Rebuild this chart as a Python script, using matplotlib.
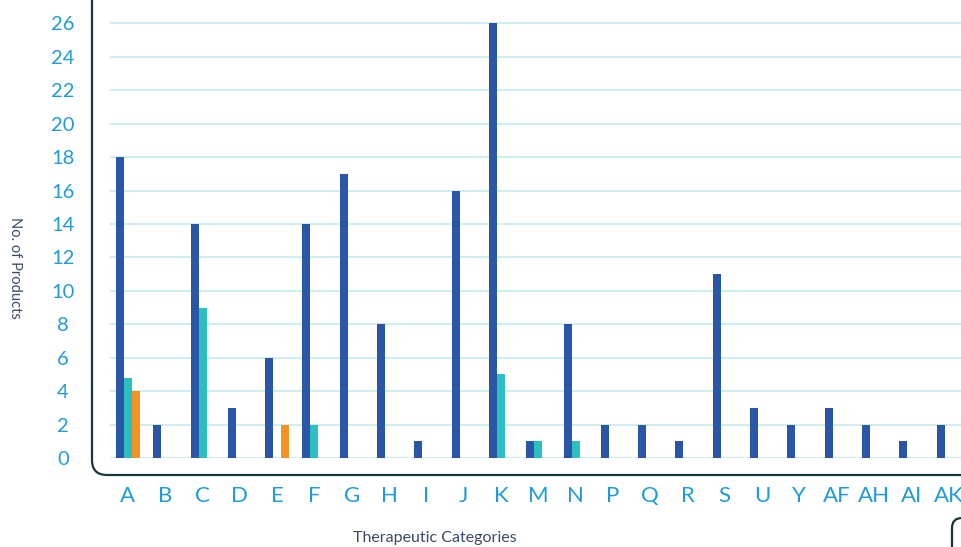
import numpy as np
import matplotlib
matplotlib.use("Agg")
import matplotlib.pyplot as plt
from matplotlib.patches import FancyBboxPatch

# categories and product counts
categories = ["A", "B", "C", "D", "E", "F", "G", "H", "I", "J", "K", "M",
              "N", "P", "Q", "R", "S", "U", "Y", "AF", "AH", "AI", "AK"]
series_blue = [18, 2, 14, 3, 6, 14, 17, 8, 1, 16, 26, 1,
               8, 2, 2, 1, 11, 3, 2, 3, 2, 1, 2]
series_teal = [4.8, 0, 9, 0, 0, 2, 0, 0, 0, 0, 5, 1,
               1, 0, 0, 0, 0, 0, 0, 0, 0, 0, 0]
series_orange = [4, 0, 0, 0, 2, 0, 0, 0, 0, 0, 0, 0,
                 0, 0, 0, 0, 0, 0, 0, 0, 0, 0, 0]
yticks = list(range(0, 27, 2))

blue = "#2A57A5"
teal = "#2CBFC0"
orange = "#F39322"
tick_col = "#1E9BD8"
label_col = "#3B4A6B"
frame_col = "#15393A"

fig = plt.figure(figsize=(9.62, 5.47), dpi=100)
ax = fig.add_axes([110 / 962, 89 / 547, 1 - 110 / 962, 1 - 89 / 547])

x = np.arange(len(categories))
w = 0.214
ax.bar(x - w, series_blue, w, color=blue, zorder=3)
ax.bar(x, series_teal, w, color=teal, zorder=3)
ax.bar(x + w, series_orange, w, color=orange, zorder=3)

ax.set_xlim(-0.48, 22.36)
ax.set_ylim(0, 27.4)
ax.set_yticks(yticks)
ax.set_xticks(x)
ax.set_xticklabels(categories)
ax.yaxis.grid(True, color="#CDEEF1", linewidth=1.4, zorder=0)
ax.set_axisbelow(True)
for s in ax.spines.values():
    s.set_visible(False)
ax.tick_params(axis="y", length=0, pad=34, labelsize=14.5, labelcolor=tick_col)
ax.tick_params(axis="x", length=0, pad=20, labelsize=16, labelcolor=tick_col)
for lab in ax.get_yticklabels():
    lab.set_horizontalalignment("center")
    lab.set_fontfamily("Lato")
for lab in ax.get_xticklabels():
    lab.set_fontfamily("Lato")

# rounded frame (left + bottom visible)
frame = FancyBboxPatch((0.92, 0.72), 12, 8, boxstyle="round,pad=0,rounding_size=0.15",
                       transform=fig.dpi_scale_trans, fill=False,
                       edgecolor=frame_col, linewidth=1.6, zorder=5)
fig.patches.append(frame)
box2 = FancyBboxPatch((9.52, -1), 3, 1.29, boxstyle="round,pad=0,rounding_size=0.1",
                      transform=fig.dpi_scale_trans, fill=False,
                      edgecolor=frame_col, linewidth=1.6, zorder=5)
fig.patches.append(box2)

fig.text(15 / 962, 1 - 268 / 547, "No. of Products", rotation=-90, ha="center",
         va="center", fontsize=10.5, color=label_col, family="Lato")
fig.text(435 / 962, 1 - 538 / 547, "Therapeutic Categories", ha="center",
         va="center", fontsize=11.5, color=label_col, family="Lato")

fig.savefig("out.png", dpi=100)
